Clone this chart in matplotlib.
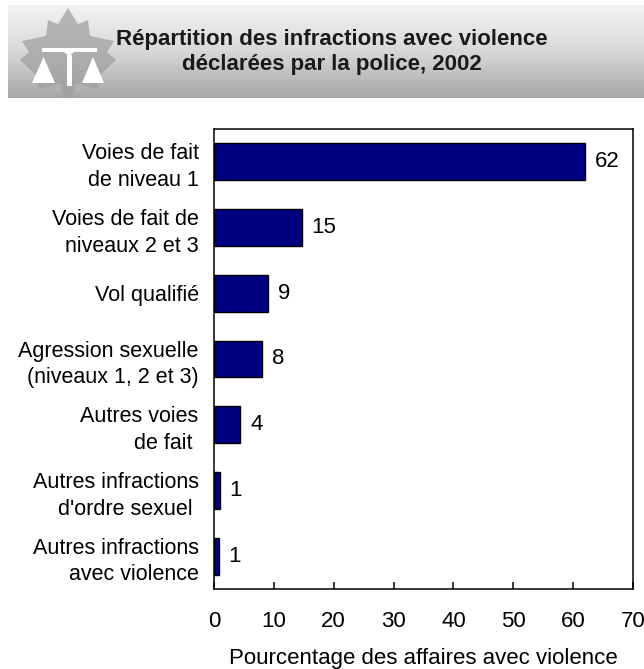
import numpy as np
import matplotlib
matplotlib.use('Agg')
import matplotlib.pyplot as plt
from matplotlib.patches import Polygon

plt.rcParams['font.family'] = ['Liberation Sans', 'DejaVu Sans']

categories = ['Voies de fait\nde niveau 1',
              'Voies de fait de\nniveaux 2 et 3',
              'Vol qualifié',
              'Agression sexuelle\n(niveaux 1, 2 et 3)',
              'Autres voies\nde fait ',
              "Autres infractions\nd'ordre sexuel ",
              'Autres infractions\navec violence']
values = [62.0, 14.7, 9.1, 8.0, 4.4, 1.0, 0.8]
value_labels = ['62', '15', '9', '8', '4', '1', '1']
xticks = [0, 10, 20, 30, 40, 50, 60, 70]

title = 'Répartition des infractions avec violence\ndéclarées par la police, 2002'
xlabel = 'Pourcentage des affaires avec violence'

W, H = 644, 669
fig = plt.figure(figsize=(W / 100, H / 100), dpi=100)

# header band in pixel coordinates
hdr = fig.add_axes([0, 0, 1, 1])
hdr.set_xlim(0, W)
hdr.set_ylim(H, 0)
hdr.axis('off')
grad = np.linspace(0, 1, 200).reshape(-1, 1)
cmap = matplotlib.colors.LinearSegmentedColormap.from_list('band', ['#f3f3f3', '#d8d8d8', '#a7a7a9'])
hdr.imshow(grad, cmap=cmap, extent=[8, W, 98, 5], aspect='auto', zorder=1)

# maple leaf
leaf = [(68, 8), (58, 24), (48, 20), (46, 36), (22, 41), (29, 52), (20, 60), (40, 79), (37, 89),
        (60, 84), (64, 98), (72, 98), (76, 84), (99, 89), (96, 79), (116, 60), (107, 52),
        (114, 41), (90, 36), (88, 20), (78, 24)]
hdr.add_patch(Polygon(leaf, closed=True, facecolor='#9e9e9e', edgecolor='none', alpha=0.7, zorder=2))
# scales
hdr.add_patch(Polygon([(42, 48), (97, 48), (97, 52), (74, 52), (69, 56), (64, 52), (42, 52)],
                      facecolor='white', edgecolor='none', zorder=3))
hdr.add_patch(Polygon([(67, 55), (72, 55), (72, 86), (67, 86)], facecolor='white', edgecolor='none', zorder=3))
hdr.add_patch(Polygon([(43.5, 57), (55, 83), (32, 83)], facecolor='white', edgecolor='none', zorder=3))
hdr.add_patch(Polygon([(93, 57), (104, 83), (82, 83)], facecolor='white', edgecolor='none', zorder=3))
hdr.text(332, 52, title, ha='center', va='center', fontsize=16, fontweight='bold',
         color='#1a1a1a', linespacing=1.3, zorder=4)

ax = fig.add_axes([214 / W, 1 - 589 / H, (633 - 214) / W, (589 - 129) / H])
y = np.arange(len(categories))
bars = ax.barh(y, values, height=0.56, color='#000080', edgecolor='black', linewidth=1.0)
for b, lab in zip(bars, value_labels):
    ax.annotate(lab, (b.get_width(), b.get_y() + b.get_height() / 2), xytext=(7, 0),
                textcoords='offset points', ha='left', va='center', fontsize=16)

ax.set_ylim(len(categories) - 0.5, -0.5)
ax.set_xlim(0, 70)
ax.set_xticks(xticks)
ax.set_yticks(y)
ax.set_yticklabels(categories, fontsize=15.5, linespacing=1.35)
ax.tick_params(axis='y', length=0, pad=11)
ax.tick_params(axis='x', direction='in', length=5, width=1.1, pad=15.5, labelsize=16)
ax.set_xlabel(xlabel, fontsize=16, labelpad=12)
for s in ax.spines.values():
    s.set_linewidth(1.1)
    s.set_color('black')

fig.savefig('out.png', dpi=100)
